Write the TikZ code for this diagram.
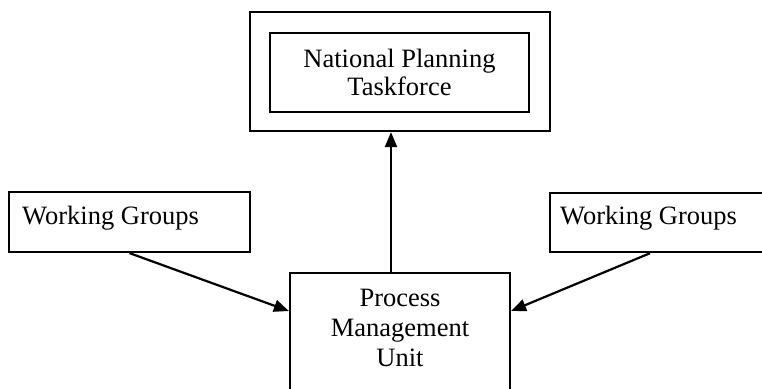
\documentclass[tikz,border=0pt]{standalone}
\usepackage{fontspec}
\setmainfont{Liberation Serif}
\usetikzlibrary{arrows.meta,calc}
\begin{document}
\begin{tikzpicture}[x=1pt,y=-1pt,
  boxline/.style={draw=black,line width=2.2pt,rectangle,inner sep=0pt},
  lbl/.style={font=\fontsize{26.5}{30}\selectfont,inner sep=0pt,text=black},
  conn/.style={draw=black,line width=2.2pt,-{Triangle[length=15pt,width=12pt]}}]
\useasboundingbox (0,0) rectangle (762,388);
\clip (0,0) rectangle (762,388);
% National Planning Taskforce
\node[boxline,minimum width=300pt,minimum height=119pt] (outer) at (400,71.5) {};
\node[boxline,minimum width=259pt,minimum height=79pt,align=center,
      font=\fontsize{26.5}{28}\selectfont] (npt) at (399.5,72.5) {National Planning\\Taskforce};
% Working groups
\node[boxline,minimum width=241pt,minimum height=60pt] (wgl) at (129.5,222) {};
\node[lbl,anchor=base west] (wgltext) at (22,224) {Working Groups};
\node[boxline,minimum width=231pt,minimum height=59pt,anchor=north west] (wgr) at (549,192) {};
\node[lbl,anchor=base west] (wgrtext) at (560,224) {Working Groups};
% Process Management Unit
\node[boxline,minimum width=220pt,minimum height=140pt,anchor=north] (pmu) at (400,272) {};
\node[lbl,align=center,anchor=north] (pmutext) at (400,288.5) {Process\\Management\\Unit};
% connectors
\draw[conn] ($(pmu.north)+(-9,0)$) -- ($(outer.south)+(-9,0)$);
\draw[conn] (wgl.south) -- ($(pmu.north west)+(0,39)$);
\draw[conn] ($(wgr.south west)+(101,0)$) -- ($(pmu.north east)+(0,39)$);
\end{tikzpicture}
\end{document}
